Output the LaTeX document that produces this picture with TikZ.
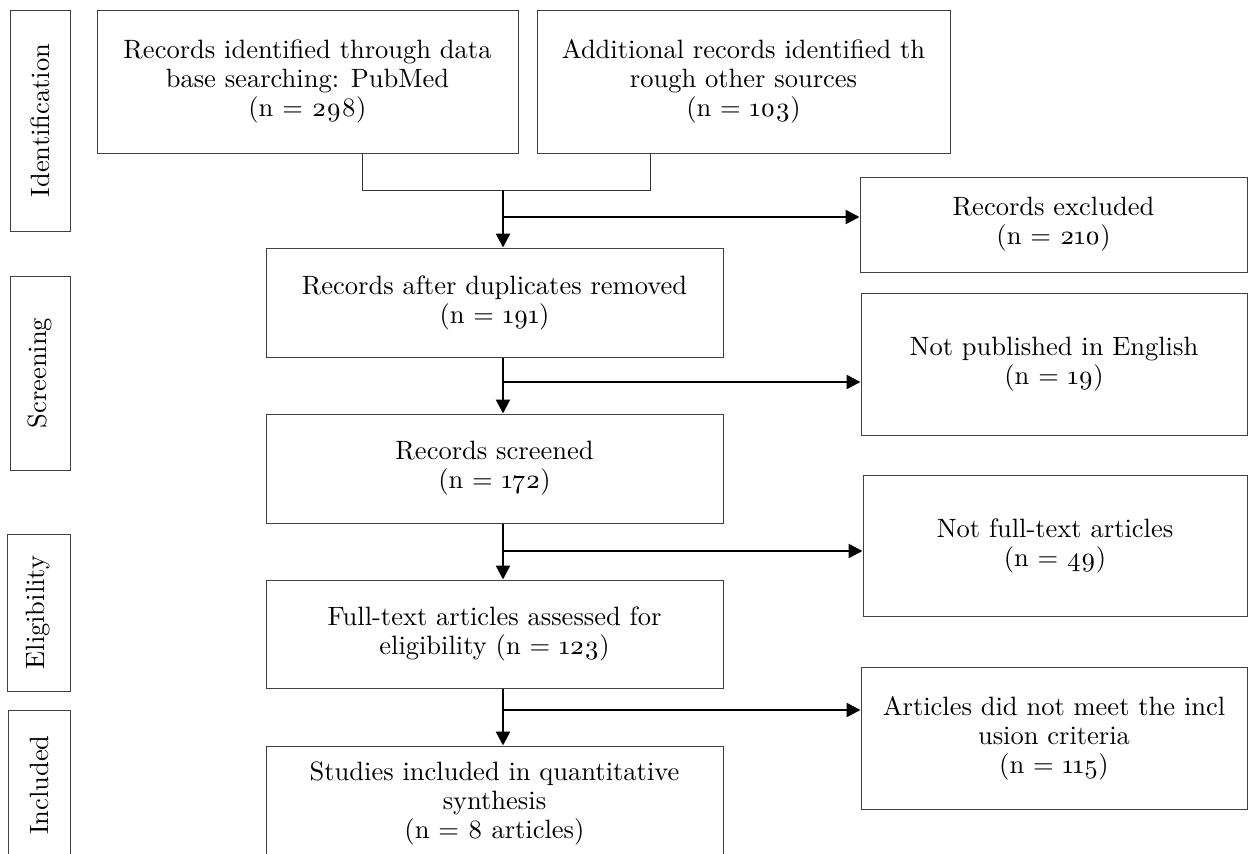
\documentclass[tikz,border=0pt]{standalone}
\usepackage{fontspec}
\setmainfont{lmroman10-regular.otf}[Numbers=OldStyle]
\usetikzlibrary{arrows.meta}
\begin{document}
\begin{tikzpicture}[x=1pt,y=-1pt,
  box/.style={draw=black!75, line width=1pt, align=center, inner sep=0pt,
    font=\fontsize{26.5}{29}\selectfont},
  side/.style={box, rotate=90},
  arr/.style={line width=2.4pt, -{Triangle[length=14pt,width=14pt]}},
  link/.style={line width=1pt, draw=black!80}]
\useasboundingbox (0,0) rectangle (1253,854);
\clip (0,0) rectangle (1253,854);
% phase labels
\node[side, minimum width=221pt, minimum height=60pt] (sid) at (40,120.5) {Identification};
\node[side, minimum width=194pt, minimum height=60pt] (sscr) at (40,373) {Screening};
\node[side, minimum width=157pt, minimum height=63pt] (seli) at (38.5,612.5) {Eligibility};
\node[side, minimum width=150pt, minimum height=62pt] (sinc) at (39,785) {Included};
% main column
\node[box, minimum width=421pt, minimum height=143pt] (b1) at (307.5,81.5)
  {Records identified through data\\ base searching: PubMed\\ (n = 298)};
\node[box, minimum width=413pt, minimum height=143pt] (b2) at (743.5,81.5)
  {Additional records identified th\\ rough other sources\\ (n = 103)};
\node[box, minimum width=457pt, minimum height=109pt] (b3) at (494.5,302.5)
  {Records after duplicates removed\\ (n = 191)};
\node[box, minimum width=457pt, minimum height=109pt] (b4) at (494.5,468.5)
  {Records screened\\ (n = 172)};
\node[box, minimum width=457pt, minimum height=108pt] (b5) at (494.5,634)
  {Full-text articles assessed for\\ eligibility (n = 123)};
\node[box, minimum width=457pt, minimum height=114pt] (b6) at (494.5,803)
  {Studies included in quantitative\\ synthesis\\ (n = 8 articles)};
% exclusion column
\node[box, minimum width=387pt, minimum height=95pt] (r1) at (1053.5,224.5)
  {Records excluded\\ (n = 210)};
\node[box, minimum width=386pt, minimum height=142pt] (r2) at (1054,364)
  {Not published in English\\ (n = 19)};
\node[box, minimum width=384pt, minimum height=141pt] (r3) at (1055,545.5)
  {Not full-text articles\\ (n = 49)};
\node[box, minimum width=386pt, minimum height=142pt] (r4) at (1054,738)
  {Articles did not meet the incl\\ usion criteria\\ (n = 115)};
% junction points
\coordinate (c1) at (362,190);
\coordinate (c2) at (650,190);
\coordinate (m0) at (503,190);
\coordinate (j1) at (503,217);
\coordinate (j2) at (503,382);
\coordinate (j3) at (503,551);
\coordinate (j4) at (503,710);
% connectors
\draw[link] (b1.south -| c1) -- (c1) -- (c2) -- (b2.south -| c2);
\draw[arr] (m0) -- (b3.north -| m0);
\draw[arr] (j1) -- (j1 -| r1.west);
\draw[arr] (b3.south -| m0) -- (b4.north -| m0);
\draw[arr] (j2) -- (j2 -| r2.west);
\draw[arr] (b4.south -| m0) -- (b5.north -| m0);
\draw[arr] (j3) -- (j3 -| r3.west);
\draw[arr] (b5.south -| m0) -- (b6.north -| m0);
\draw[arr] (j4) -- (j4 -| r4.west);
\end{tikzpicture}
\end{document}
